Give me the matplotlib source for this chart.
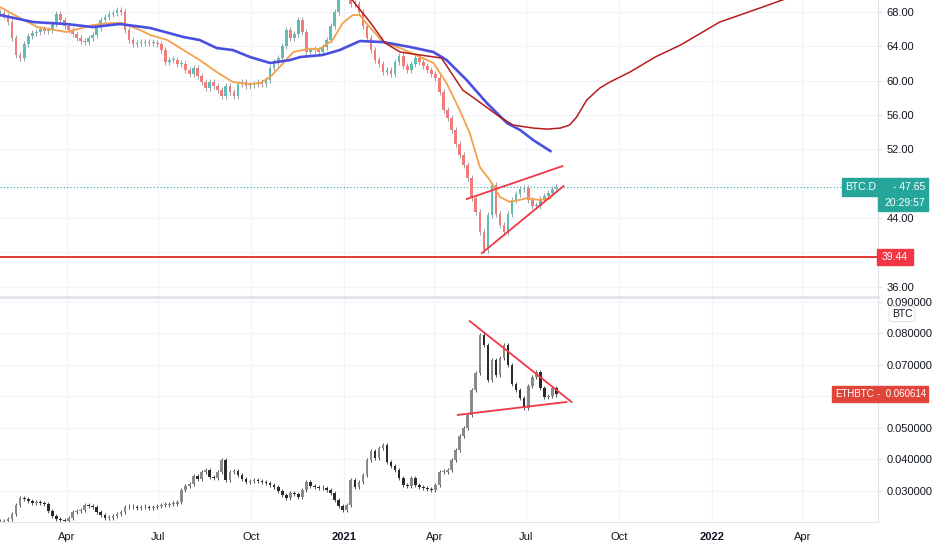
import datetime as dt
import matplotlib
matplotlib.use("Agg")
import matplotlib.pyplot as plt
from matplotlib.patches import Rectangle
from matplotlib.transforms import blended_transform_factory

plt.rcParams['font.family'] = ['Liberation Sans', 'DejaVu Sans']

# time axis: days counted from the first candle
start = dt.date(2020, 1, 26)
step = 4  # days per candle
x_end = 871

# BTC dominance (%) closes
btcd_close = [67.88, 67.53, 66.83, 64.97, 62.99, 62.64, 64.27, 65.20, 65.55, 65.67,
              66.02, 65.79, 65.90, 66.60, 67.77, 67.07, 66.37, 65.90, 65.44, 64.97,
              64.62, 64.50, 64.97, 65.32, 66.14, 67.07, 67.42, 67.77, 67.88, 68.23,
              68.00, 65.90, 64.74, 64.27, 64.39, 64.39, 64.50, 64.39, 64.39, 64.27,
              63.57, 62.17, 62.41, 62.41, 61.94, 61.94, 61.24, 60.77, 61.47, 60.54,
              59.84, 59.14, 59.84, 59.38, 58.91, 58.21, 59.38, 58.68, 58.21, 59.61,
              59.84, 59.38, 59.49, 59.61, 59.84, 59.61, 60.07, 61.47, 62.17, 62.64,
              64.04, 65.90, 64.97, 65.44, 67.07, 65.67, 63.34, 63.57, 63.57, 63.34,
              63.92, 64.74, 66.37, 68.00, 69.98, 70.56, 70.10, 68.93, 68.93, 68.00,
              66.37, 64.97, 63.57, 62.41, 61.94, 61.01, 61.24, 60.77, 62.17, 62.87,
              61.71, 61.24, 61.94, 62.64, 62.17, 61.71, 61.24, 60.77, 60.31, 58.68,
              56.58, 55.65, 54.25, 52.62, 51.33, 50.17, 48.65, 46.32, 44.69, 42.36,
              40.26, 44.34, 47.84, 44.46, 43.17, 42.36, 44.46, 46.09, 46.79, 47.37,
              47.49, 46.09, 45.39, 45.39, 46.21, 46.55, 46.90, 47.37, 47.65]

# ETH/BTC closes
ethbtc_close = [0.0202, 0.0205, 0.0211, 0.0227, 0.0256, 0.0278, 0.0275, 0.0268, 0.0262, 0.0265,
                0.0262, 0.0259, 0.0237, 0.0221, 0.0211, 0.0208, 0.0205, 0.0215, 0.0234, 0.0237,
                0.0240, 0.0256, 0.0253, 0.0249, 0.0234, 0.0224, 0.0215, 0.0215, 0.0221, 0.0227,
                0.0234, 0.0249, 0.0249, 0.0249, 0.0246, 0.0249, 0.0249, 0.0246, 0.0249, 0.0253,
                0.0256, 0.0256, 0.0259, 0.0259, 0.0265, 0.0303, 0.0316, 0.0322, 0.0347, 0.0338,
                0.0360, 0.0366, 0.0344, 0.0341, 0.0360, 0.0398, 0.0335, 0.0360, 0.0363, 0.0351,
                0.0338, 0.0328, 0.0332, 0.0335, 0.0332, 0.0328, 0.0325, 0.0319, 0.0313, 0.0300,
                0.0287, 0.0278, 0.0294, 0.0291, 0.0281, 0.0303, 0.0328, 0.0316, 0.0313, 0.0309,
                0.0309, 0.0303, 0.0294, 0.0272, 0.0253, 0.0240, 0.0256, 0.0335, 0.0313, 0.0328,
                0.0351, 0.0398, 0.0427, 0.0404, 0.0436, 0.0446, 0.0392, 0.0379, 0.0366, 0.0341,
                0.0319, 0.0316, 0.0341, 0.0319, 0.0313, 0.0309, 0.0306, 0.0303, 0.0319, 0.0360,
                0.0360, 0.0366, 0.0398, 0.0430, 0.0474, 0.0499, 0.0541, 0.0620, 0.0673, 0.0794,
                0.0762, 0.0651, 0.0715, 0.0667, 0.0721, 0.0762, 0.0699, 0.0639, 0.0620, 0.0594,
                0.0563, 0.0632, 0.0661, 0.0677, 0.0626, 0.0597, 0.0601, 0.0626, 0.0606]

# moving averages on BTC.D
ma_fast_days = [0, 20, 37, 66, 92, 109, 121, 139, 149, 166, 182, 198, 215, 231, 248, 258, 268, 281,
                291, 305, 317, 330, 340, 350, 357, 364, 380, 397, 417, 430, 443, 456, 466, 476,
                486, 496, 506, 523, 536, 546]
ma_fast_vals = [68.58, 67.30, 66.25, 65.67, 66.48, 66.72, 66.72, 65.90, 65.32, 64.74, 63.57, 62.41,
                61.01, 59.84, 59.61, 59.72, 60.42, 62.06, 63.34, 63.69, 63.69, 64.74, 66.72, 67.65,
                67.65, 66.60, 64.50, 63.80, 62.76, 62.06, 59.72, 56.58, 53.90, 49.93, 48.42, 46.44,
                45.86, 46.32, 46.09, 46.32]
ma_slow_days = [0, 33, 66, 92, 119, 149, 182, 198, 215, 231, 248, 268, 288, 298, 320, 337, 357,
                380, 407, 430, 443, 463, 483, 503, 516, 529, 546]
ma_slow_vals = [67.65, 66.83, 66.60, 66.25, 66.60, 66.14, 65.09, 64.74, 63.80, 63.57, 62.76, 62.06,
                62.41, 62.76, 62.99, 63.57, 64.62, 64.50, 63.92, 63.34, 62.41, 60.07, 57.39, 55.06,
                54.25, 53.08, 51.80]
ma_shift_days = [347, 367, 382, 397, 417, 438, 459, 473, 496, 509, 529, 543, 556, 565, 572, 582,
                 595, 605, 625, 650, 675, 714, 754, 776, 794]
ma_shift_vals = [69.75, 66.83, 64.39, 63.34, 62.99, 62.64, 58.91, 57.74, 55.76, 54.83, 54.48, 54.36,
                 54.48, 54.83, 55.76, 57.74, 59.14, 59.84, 61.01, 62.76, 64.15, 66.83, 68.47, 69.40,
                 70.10]

# drawn trend lines
btcd_support = 39.44
btcd_wedge_top = ([463, 558], [46.21, 50.05])
btcd_wedge_bottom = ([478, 559], [39.91, 47.72])
eth_tri_top = ([466, 567], [0.0838, 0.0582])
eth_tri_bottom = ([454, 562], [0.0541, 0.0582])

quarters = [dt.date(2020, 4, 1), dt.date(2020, 7, 1), dt.date(2020, 10, 1), dt.date(2021, 1, 1),
            dt.date(2021, 4, 1), dt.date(2021, 7, 1), dt.date(2021, 10, 1), dt.date(2022, 1, 1),
            dt.date(2022, 4, 1)]
quarter_labels = ['Apr', 'Jul', 'Oct', '2021', 'Apr', 'Jul', 'Oct', '2022', 'Apr']

btcd_ticks = [36, 40, 44, 48, 52, 56, 60, 64, 68]
eth_ticks = [0.03, 0.04, 0.05, 0.06, 0.07, 0.08, 0.09]
# scale labels hidden behind the last-price boxes
btcd_hidden = [40, 48]
eth_hidden = [0.06]

GRID = '#f0f3fa'
BORDER = '#e0e3eb'
TXT = '#131722'


def draw_candles(ax, closes, up, down, wick_color, wick, min_body):
    days = [i * step for i in range(len(closes))]
    opens = [closes[0]] + closes[:-1]
    lows = [min(o, c) for o, c in zip(opens, closes)]
    heights = [max(abs(c - o), min_body) for o, c in zip(opens, closes)]
    colors = [up if c >= o else down for o, c in zip(opens, closes)]
    ax.vlines(days, [l - wick for l in lows], [l + h + wick for l, h in zip(lows, heights)],
              color=wick_color, lw=0.7, zorder=2)
    ax.bar(days, heights, width=2.6, bottom=lows, color=colors, linewidth=0, zorder=3)


fig = plt.figure(figsize=(9.32, 5.5), dpi=100)
right = 878 / 932
ax1 = fig.add_axes([0, 1 - 297 / 550, right, 297 / 550])
ax2 = fig.add_axes([0, 28 / 550, right, (522 - 299) / 550], sharex=ax1)

qdays = [(q - start).days for q in quarters]

for ax, ticks, hidden, fmt in ((ax1, btcd_ticks, btcd_hidden, '{:.2f}'),
                               (ax2, eth_ticks, eth_hidden, '{:.6f}')):
    for t in ticks:
        ax.axhline(t, color=GRID, lw=0.9, zorder=0)
    for q in qdays:
        ax.axvline(q, color=GRID, lw=0.9, zorder=0)
    for s in ('top', 'left'):
        ax.spines[s].set_visible(False)
    ax.spines['right'].set_color(BORDER)
    ax.spines['bottom'].set_color(BORDER)
    ax.yaxis.tick_right()
    ax.set_yticks(ticks)
    ax.set_yticklabels(['' if any(abs(t - h) < 1e-9 for h in hidden) else fmt.format(t)
                        for t in ticks])
    ax.tick_params(axis='y', length=3, color=BORDER, labelsize=8, labelcolor=TXT, pad=3)

ax1.spines['bottom'].set_linewidth(2)

# top pane: BTC dominance
draw_candles(ax1, btcd_close, '#5dbfb4', '#f17c7a', '#9aa0a6', 0.35, 0.12)
ax1.plot(ma_fast_days, ma_fast_vals, color='#f5a04a', lw=1.3, zorder=4)
ax1.plot(ma_slow_days, ma_slow_vals, color='#4a4fe0', lw=1.9, zorder=4)
ax1.plot(ma_shift_days, ma_shift_vals, color='#b71c1c', lw=1.1, zorder=4)
ax1.axhline(btcd_support, color='#e53935', lw=1.4, zorder=5)
ax1.plot(*btcd_wedge_top, color='#f23645', lw=1.3, zorder=5)
ax1.plot(*btcd_wedge_bottom, color='#f23645', lw=1.3, zorder=5)
ax1.axhline(btcd_close[-1], color='#26a69a', lw=0.8, ls=(0, (1, 2)), zorder=1)
ax1.set_ylim(34.8, 69.4)
ax1.tick_params(axis='x', length=0, labelbottom=False)

# bottom pane: ETH/BTC
draw_candles(ax2, ethbtc_close, '#8a8a8a', '#2b2b2b', '#555555', 0.0007, 0.0002)
ax2.plot(*eth_tri_top, color='#f23645', lw=1.3, zorder=5)
ax2.plot(*eth_tri_bottom, color='#f23645', lw=1.3, zorder=5)
ax2.set_ylim(0.0202, 0.0908)
ax2.set_xlim(0, x_end)
ax2.set_xticks(qdays)
ax2.set_xticklabels(quarter_labels)
ax2.tick_params(axis='x', length=0, labelsize=8, labelcolor=TXT, pad=7)
for lbl in ax2.get_xticklabels():
    if lbl.get_text().isdigit():
        lbl.set_fontweight('bold')


# price labels on the right scale
def px(v):
    return v / 932


t1 = blended_transform_factory(fig.transFigure, ax1.transData)
t2 = blended_transform_factory(fig.transFigure, ax2.transData)
upp = 34.6 / 297  # value units per pixel, top pane
upp2 = 0.0706 / 223

v = btcd_close[-1]
ax1.add_patch(Rectangle((px(842), v - 9 * upp), px(86), 18 * upp, transform=t1,
                        color='#26a69a', clip_on=False, zorder=10))
ax1.add_patch(Rectangle((px(878), v - 24 * upp), px(50), 16 * upp, transform=t1,
                        color='#26a69a', clip_on=False, zorder=10))
ax1.text(px(845), v, 'BTC.D', transform=t1, color='white', fontsize=7.5,
         va='center', ha='left', zorder=11, clip_on=False)
ax1.text(px(925), v, '- 47.65', transform=t1, color='white', fontsize=7.5,
         va='center', ha='right', zorder=11, clip_on=False)
ax1.text(px(925), v - 16 * upp, '20:29:57', transform=t1, color='white', fontsize=7.5,
         va='center', ha='right', zorder=11, clip_on=False)

ax1.add_patch(Rectangle((px(877), btcd_support - 8 * upp), px(36), 16 * upp, transform=t1,
                        color='#f23645', clip_on=False, zorder=10))
ax1.text(px(895), btcd_support, '39.44', transform=t1, color='white', fontsize=7.5,
         va='center', ha='center', zorder=11, clip_on=False)

ve = ethbtc_close[-1]
ax2.add_patch(Rectangle((px(832), ve - 8 * upp2), px(96), 16 * upp2, transform=t2,
                        color='#e0453a', clip_on=False, zorder=10))
ax2.text(px(835), ve, 'ETHBTC', transform=t2, color='white', fontsize=7,
         va='center', ha='left', zorder=11, clip_on=False)
ax2.text(px(926), ve, '-  0.060614', transform=t2, color='white', fontsize=7,
         va='center', ha='right', zorder=11, clip_on=False)

fig.text(px(902), 1 - 314 / 550, 'BTC', fontsize=7.5, color=TXT, ha='center', va='center',
         bbox=dict(boxstyle='round,pad=0.25', fc='white', ec=BORDER, lw=0.8))

fig.savefig('out.png', dpi=100, facecolor='white')
